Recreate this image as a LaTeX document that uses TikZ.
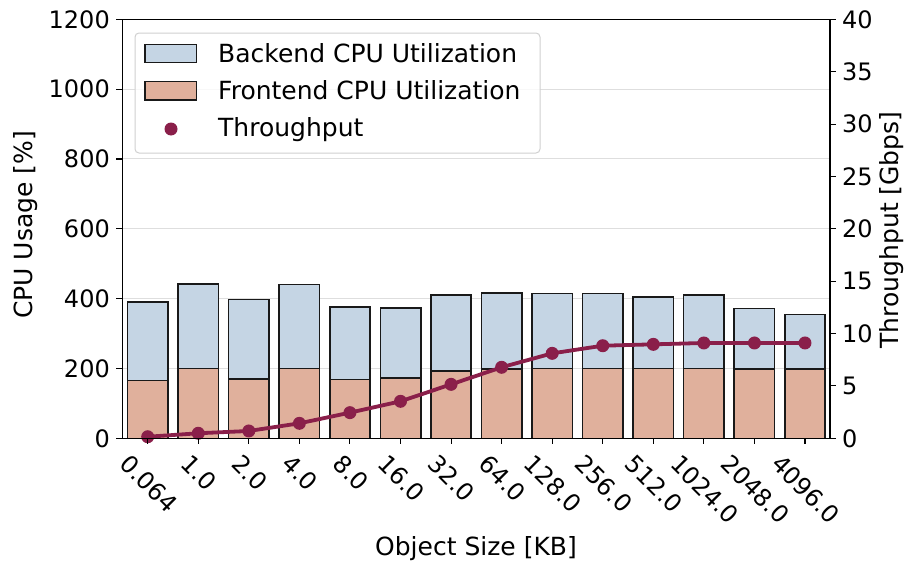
\documentclass[tikz,border=0pt]{standalone}
\usepackage{fontspec}
\setmainfont{DejaVu Sans}
\usepackage{graphicx}
\definecolor{backend}{HTML}{C5D5E4}
\definecolor{frontend}{HTML}{E0B09C}
\definecolor{thru}{HTML}{8A1F4A}
\definecolor{gridc}{HTML}{DEDEDE}
\definecolor{legframe}{HTML}{D0D0D0}

\tikzset{
  barbox/.style={draw=black!90, line width=1.6pt},
  spine/.style={draw=black, line width=1.3pt},
  tickmark/.style={draw=black, line width=1.1pt},
  gridline/.style={draw=gridc, line width=1pt},
  ticklab/.style={inner sep=0pt, font=\fontsize{24}{28}\selectfont},
  axlab/.style={inner sep=0pt, font=\fontsize{25}{30}\selectfont},
  legtext/.style={inner sep=0pt, anchor=base west, font=\fontsize{25}{30}\selectfont},
  thruline/.style={draw=thru, line width=3.8pt, line join=round, line cap=round},
  thrudot/.style={fill=thru},
}

\begin{document}
\begin{tikzpicture}[x=1pt, y=-1pt]
\useasboundingbox (0,0) rectangle (905,562);

% plot frame in page units: x of category i, y of value v
\def\xo{147.7}
\def\dx{50.56}
\def\yo{438.3}
\def\ky{0.34917}   % px per % CPU
\def\kg{10.475}    % px per Gbps
\def\xl{122.4}
\def\xr{830}
\def\yt{19.3}

% horizontal grid
\foreach \v in {200,400,600,800,1000}
  \draw[gridline] (\xl,{\yo-\v*\ky}) -- (\xr,{\yo-\v*\ky});

% stacked CPU bars: total (backend on top) and frontend part
\foreach \i/\b/\f in {0/391/165, 1/442/200, 2/397/170, 3/441/200, 4/376/168,
                      5/373/173, 6/411/192, 7/417/199, 8/415/200, 9/415/200,
                      10/405/200, 11/410/200, 12/372/199, 13/355/199} {
  \draw[barbox, fill=backend] ({\xo+\dx*\i-20.2},\yo) rectangle ({\xo+\dx*\i+20.2},{\yo-\b*\ky});
  \draw[barbox, fill=frontend] ({\xo+\dx*\i-20.2},\yo) rectangle ({\xo+\dx*\i+20.2},{\yo-\f*\ky});
}

% throughput points
\foreach \i/\g in {0/0.15, 1/0.48, 2/0.70, 3/1.43, 4/2.45, 5/3.53, 6/5.15,
                   7/6.78, 8/8.11, 9/8.84, 10/8.97, 11/9.10, 12/9.10, 13/9.10}
  \coordinate (t\i) at ({\xo+\dx*\i},{\yo-\g*\kg});

\draw[thruline] (t0) -- (t1) -- (t2) -- (t3) -- (t4) -- (t5) -- (t6) -- (t7)
  -- (t8) -- (t9) -- (t10) -- (t11) -- (t12) -- (t13);
\foreach \i in {0,...,13}
  \fill[thrudot] (t\i) circle (6.5);

% axes box
\draw[spine] (\xl,\yt) rectangle (\xr,\yo);

% left axis ticks
\foreach \v in {0,200,400,600,800,1000,1200} {
  \draw[tickmark] (\xl,{\yo-\v*\ky}) -- ++(-6,0);
  \node[ticklab, anchor=east] (yl\v) at (110,{\yo-\v*\ky}) {\v};
}
% right axis ticks
\foreach \g in {0,5,10,15,20,25,30,35,40} {
  \draw[tickmark] (\xr,{\yo-\g*\kg}) -- ++(6,0);
  \node[ticklab, anchor=west] (yr\g) at (842,{\yo-\g*\kg}) {\g};
}
% bottom ticks and rotated category labels
\foreach \i/\lab in {0/0.064, 1/1.0, 2/2.0, 3/4.0, 4/8.0, 5/16.0, 6/32.0,
                     7/64.0, 8/128.0, 9/256.0, 10/512.0, 11/1024.0, 12/2048.0, 13/4096.0} {
  \draw[tickmark] ({\xo+\dx*\i},\yo) -- ++(0,6);
  \node[ticklab, anchor=north] (xl\i) at ({\xo+\dx*\i+1},453) {\rotatebox{-45}{\lab}};
}

% axis titles
\node[axlab, anchor=base] (xtitle) at (476,555) {Object Size [KB]};
\node[axlab, anchor=base, rotate=90] (ytitle) at (32,225) {CPU Usage [\%]};
\node[axlab, anchor=base, rotate=90] (y2title) at (898,230) {Throughput [Gbps]};

% legend
\draw[draw=legframe, line width=1pt, fill=white, fill opacity=0.8, rounded corners=4pt]
  (135,33) rectangle (540,153);
\draw[barbox, line width=1.4pt, fill=backend] (145,44.3) rectangle (196.7,62.3);
\draw[barbox, line width=1.4pt, fill=frontend] (145,81.7) rectangle (196.7,100);
\fill[thrudot] (171,129) circle (6.5);
\node[legtext] (lg1) at (218,62.4) {Backend CPU Utilization};
\node[legtext] (lg2) at (218,99.8) {Frontend CPU Utilization};
\node[legtext] (lg3) at (218,136.8) {Throughput};
\end{tikzpicture}
\end{document}
